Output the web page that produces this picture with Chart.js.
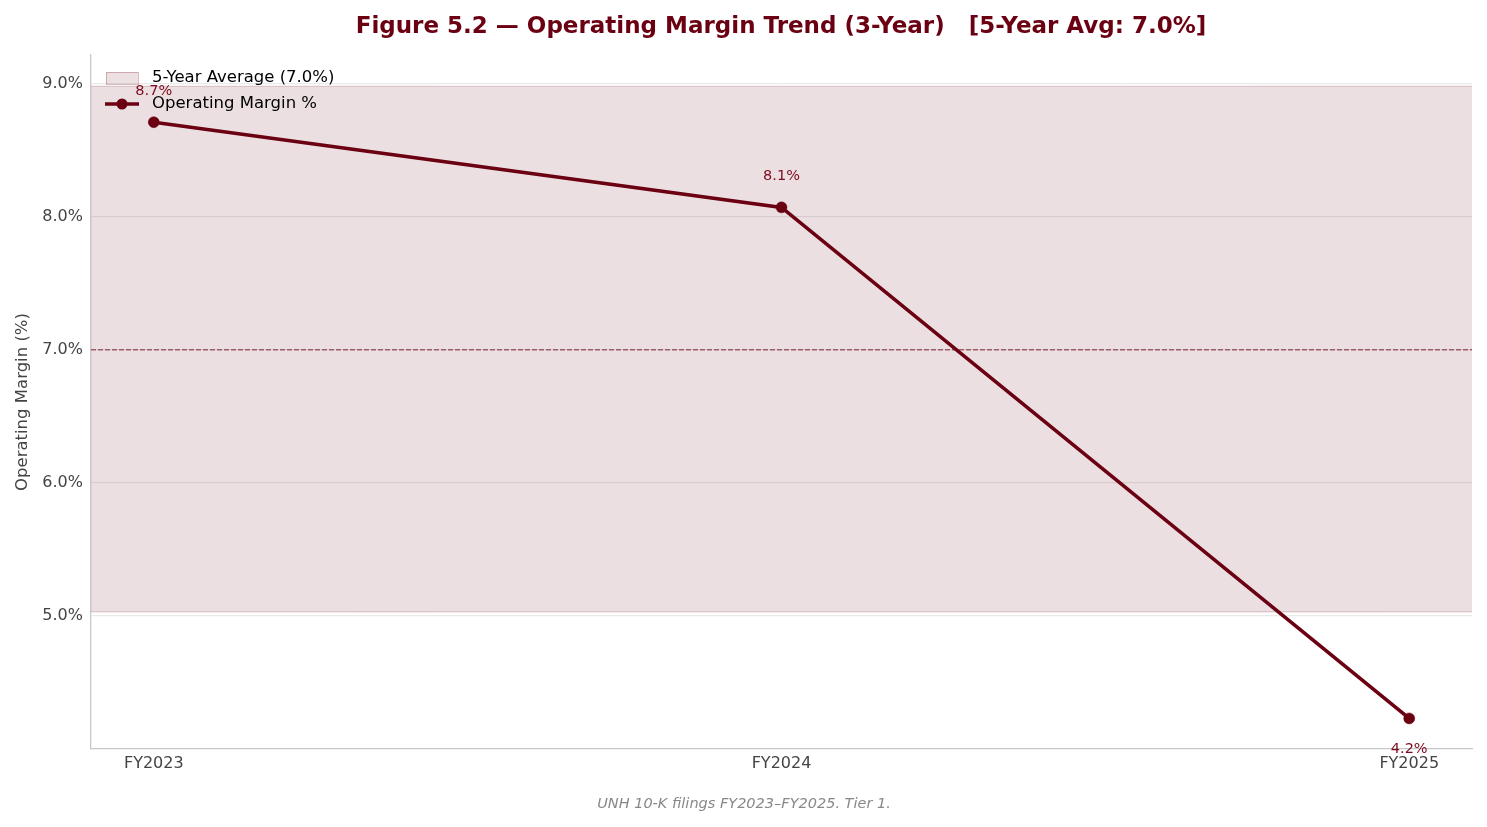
<!DOCTYPE html>
<html>
<head>
<meta charset="utf-8">
<script src="https://cdn.jsdelivr.net/npm/chart.js@4/dist/chart.umd.min.js"></script>
<style>
  html, body { margin: 0; padding: 0; background: #fff; }
  #wrap { width: 1487px; height: 827px; }
</style>
</head>
<body>
<div id="wrap"><canvas id="marginChart" width="1487" height="827"></canvas></div>
<script>
'use strict'

// data
const years = ["FY2023", "FY2024", "FY2025"];
const opMargin = [8.71, 8.07, 4.23];
const marginLabels = ["8.7%", "8.1%", "4.2%"];
const avgValue = 7.0;
const bandLow = 5.03;
const bandHigh = 8.98;
const yTicks = [5, 6, 7, 8, 9];

const maroon = "#6b0012";
const labelColor = "#7d0a1e";
const fontFam = "'DejaVu Sans', sans-serif";

// x positions are the category indexes
const linePts = opMargin.map((v, i) => ({ x: i, y: v }));
const xLo = -0.1, xHi = 2.1;

// draws title, footer, point labels and the legend
const decorPlugin = {
    id: "decor",
    afterDatasetsDraw(chart) {
        const c = chart.ctx;
        const xs = chart.scales.x, ys = chart.scales.y;
        c.save();

        // value labels
        c.font = "14.5px " + fontFam;
        c.fillStyle = labelColor;
        c.textAlign = "center";
        c.textBaseline = "middle";
        linePts.forEach((p, i) => {
            const px = xs.getPixelForValue(p.x);
            const py = ys.getPixelForValue(p.y);
            const off = i === linePts.length - 1 ? 31 : -31;
            c.fillText(marginLabels[i], px, py + off);
        });

        // legend (no frame)
        const lx = chart.chartArea.left;
        const ly = chart.chartArea.top;
        c.fillStyle = "rgba(107,0,18,0.12)";
        c.strokeStyle = "rgba(107,0,18,0.25)";
        c.lineWidth = 1;
        c.fillRect(lx + 15, ly + 17, 32, 12);
        c.strokeRect(lx + 15.5, ly + 17.5, 32, 12);
        c.strokeStyle = maroon;
        c.lineWidth = 3.5;
        c.beginPath();
        c.moveTo(lx + 14, ly + 49);
        c.lineTo(lx + 48, ly + 49);
        c.stroke();
        c.fillStyle = maroon;
        c.beginPath();
        c.arc(lx + 31, ly + 49, 5.5, 0, Math.PI * 2);
        c.fill();
        c.font = "16.5px " + fontFam;
        c.fillStyle = "#000";
        c.textAlign = "left";
        c.fillText("5-Year Average (7.0%)", lx + 61, ly + 23);
        c.fillText("Operating Margin %", lx + 61, ly + 49);

        // title
        c.font = "bold 23px " + fontFam;
        c.fillStyle = maroon;
        c.textAlign = "center";
        c.fillText("Figure 5.2 \u2014 Operating Margin Trend (3-Year)   [5-Year Avg: 7.0%]", 781, 27);

        // footer
        c.font = "italic 14.5px " + fontFam;
        c.fillStyle = "#888";
        c.fillText("UNH 10-K filings FY2023\u2013FY2025. Tier 1.", 744, 804);

        c.restore();
    }
};

new Chart(document.getElementById("marginChart"), {
    type: "line",
    data: {
        datasets: [
            {
                // band upper edge
                data: [{ x: xLo, y: bandHigh }, { x: xHi, y: bandHigh }],
                borderColor: "rgba(107,0,18,0.2)",
                borderWidth: 1,
                pointRadius: 0,
                fill: false
            },
            {
                // band lower edge, filled up to previous
                data: [{ x: xLo, y: bandLow }, { x: xHi, y: bandLow }],
                borderColor: "rgba(107,0,18,0.2)",
                borderWidth: 1,
                backgroundColor: "rgba(107,0,18,0.125)",
                pointRadius: 0,
                fill: "-1"
            },
            {
                // 5-year average
                data: [{ x: xLo, y: avgValue }, { x: xHi, y: avgValue }],
                borderColor: "rgba(107,0,18,0.55)",
                borderWidth: 1.3,
                borderDash: [5, 2],
                pointRadius: 0,
                fill: false
            },
            {
                label: "Operating Margin %",
                data: linePts,
                borderColor: maroon,
                backgroundColor: maroon,
                borderWidth: 3.6,
                pointRadius: 5.5,
                pointBorderWidth: 0.5,
                pointBackgroundColor: maroon,
                pointBorderColor: maroon,
                fill: false,
                tension: 0
            }
        ]
    },
    options: {
        responsive: false,
        animation: false,
        layout: { padding: { top: 55, right: 15, bottom: 0, left: 0 } },
        plugins: {
            legend: { display: false },
            title: { display: false },
            tooltip: { enabled: false }
        },
        scales: {
            x: {
                type: "linear",
                min: xLo,
                max: xHi,
                afterBuildTicks(axis) {
                    axis.ticks = years.map((_, i) => ({ value: i }));
                },
                afterFit(axis) { axis.height = 78; },
                ticks: {
                    callback: (v) => years[v] || "",
                    color: "#444",
                    font: { family: fontFam, size: 16 },
                    padding: 5
                },
                grid: { display: false, drawTicks: false },
                border: { display: true, color: "#c8c8c8", width: 1.3 }
            },
            y: {
                min: 4.0,
                max: 9.215,
                afterBuildTicks(axis) {
                    axis.ticks = yTicks.map(v => ({ value: v }));
                },
                afterFit(axis) { axis.width = 91; },
                ticks: {
                    callback: (v) => v.toFixed(1) + "%",
                    color: "#444",
                    font: { family: fontFam, size: 16 },
                    padding: 8
                },
                title: {
                    display: true,
                    text: "Operating Margin (%)",
                    color: "#444",
                    font: { family: fontFam, size: 16.5 },
                    padding: { top: 13, bottom: 0 }
                },
                grid: { color: "rgba(0,0,0,0.085)", lineWidth: 1.3, drawTicks: false },
                border: { display: true, color: "#c8c8c8", width: 1.3 }
            }
        }
    },
    plugins: [decorPlugin]
});
</script>
</body>
</html>
